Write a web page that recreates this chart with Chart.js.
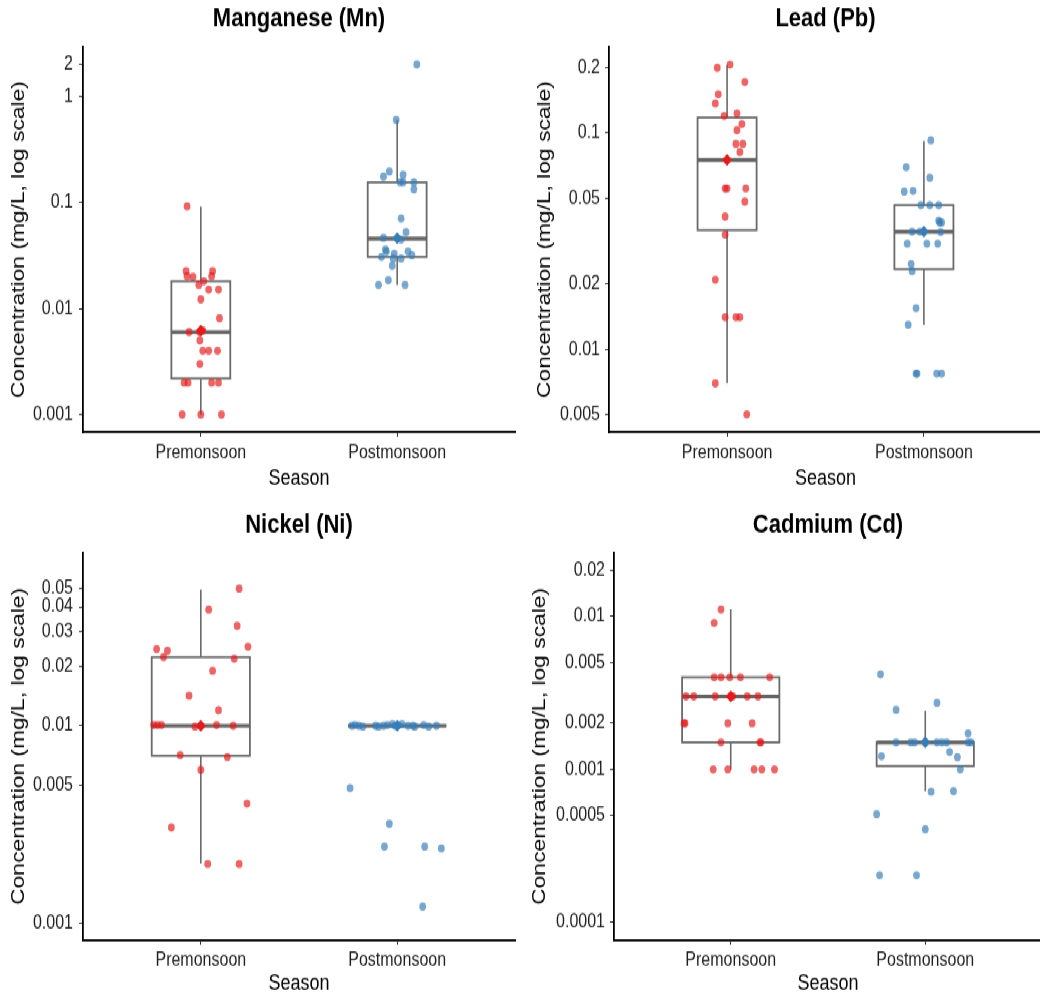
<!DOCTYPE html>
<html>
<head>
<meta charset="utf-8">
<script src="https://cdn.jsdelivr.net/npm/chart.js@4.4.1/dist/chart.umd.min.js"></script>
<style>
  html, body { margin: 0; padding: 0; background: #fff; }
  #frame { position: relative; width: 1040px; height: 997px; overflow: hidden; }
  #page { position: absolute; left: 0; top: 0; width: 1047px; height: 831px;
          transform: scaleY(1.19976); transform-origin: 0 0; }
  #page canvas { position: absolute; }
</style>
</head>
<body>
<div id="frame">
<div id="page">
  <canvas id="mn" width="520" height="415" style="left:0;top:0"></canvas>
  <canvas id="pb" width="527" height="415" style="left:520px;top:0"></canvas>
  <canvas id="ni" width="520" height="416" style="left:0;top:415px"></canvas>
  <canvas id="cd" width="527" height="416" style="left:520px;top:415px"></canvas>
</div>
</div>
<script>
const seasons = ["Premonsoon", "Postmonsoon"];

// Manganese (Mn)
const mnPre = [0.092, 0.0225, 0.0202, 0.0199, 0.0225, 0.0202, 0.0181, 0.0167, 0.0151, 0.0151, 0.0122, 0.0081, 0.006, 0.006, 0.0062, 0.005, 0.004, 0.004, 0.004, 0.003, 0.002, 0.002, 0.002, 0.002, 0.001, 0.001, 0.001];
const mnPreJitter = [-0.07, -0.075, -0.07, -0.04, 0.06, 0.055, 0.015, -0.01, 0.04, 0.09, 0, 0.095, -0.06, -0.005, 0.01, -0.005, 0.01, 0.04, 0.085, -0.005, -0.085, -0.065, 0.055, 0.09, -0.095, 0, 0.105];
const mnPost = [2.0, 0.60, 0.196, 0.175, 0.182, 0.155, 0.155, 0.155, 0.133, 0.0706, 0.0525, 0.0464, 0.0448, 0.036, 0.0345, 0.033, 0.0345, 0.0318, 0.0307, 0.0296, 0.0296, 0.0253, 0.0185, 0.0167, 0.0167];
const mnPostJitter = [0.1, -0.005, -0.04, -0.07, 0.03, 0.015, 0.03, 0.085, 0.085, 0.02, 0.045, -0.07, 0.02, -0.06, -0.055, -0.015, 0.055, 0.075, -0.08, -0.02, 0.02, -0.025, -0.045, -0.095, 0.04];
const mnBoxPre = [0.001, 0.00219, 0.006, 0.0181, 0.091];   // lo, q1, median, q3, hi
const mnBoxPost = [0.0167, 0.0307, 0.0457, 0.155, 0.60];
const mnMeans = [0.0062, 0.046];
const mnTicks = [0.001, 0.01, 0.1, 1, 2];
const mnRange = [0.000684, 2.92];

// Lead (Pb)
const pbPre = [0.200, 0.207, 0.172, 0.151, 0.137, 0.120, 0.123, 0.110, 0.103, 0.089, 0.089, 0.0817, 0.0554, 0.0554, 0.0554, 0.0482, 0.0411, 0.0339, 0.021, 0.0141, 0.0141, 0.0141, 0.00697, 0.00501];
const pbPreJitter = [-0.05, 0.015, 0.09, -0.045, -0.06, -0.015, 0.05, 0.075, 0.05, 0.045, 0.08, 0.065, -0.01, 0, 0.095, 0.09, -0.01, -0.01, -0.06, -0.01, 0.045, 0.065, -0.06, 0.1];
const pbPost = [0.0925, 0.0695, 0.0621, 0.0536, 0.054, 0.0464, 0.0464, 0.0464, 0.0394, 0.0386, 0.0386, 0.035, 0.035, 0.0349, 0.0308, 0.0308, 0.0308, 0.0248, 0.023, 0.0155, 0.013, 0.00773, 0.00773, 0.00773, 0.00773];
const pbPostJitter = [0.035, -0.09, 0.03, -0.1, -0.055, -0.015, 0.03, 0.075, 0.075, 0.09, 0.08, -0.06, -0.02, 0.085, -0.085, 0.015, 0.07, -0.065, -0.06, -0.04, -0.08, -0.04, -0.035, 0.065, 0.09];
const pbBoxPre = [0.0070, 0.0356, 0.0749, 0.1177, 0.206];
const pbBoxPost = [0.013, 0.0235, 0.035, 0.0464, 0.0919];
const pbMeans = [0.075, 0.035];
const pbTicks = [0.005, 0.01, 0.02, 0.05, 0.1, 0.2];
const pbRange = [0.00415, 0.2495];

// Nickel (Ni)
const niPre = [0.0496, 0.0388, 0.0321, 0.0245, 0.024, 0.0252, 0.0223, 0.0219, 0.019, 0.0142, 0.012, 0.0101, 0.0101, 0.0101, 0.0099, 0.01, 0.0101, 0.01, 0.0071, 0.00694, 0.00598, 0.00403, 0.00305, 0.00199, 0.00199];
const niPreJitter = [0.195, 0.04, 0.185, -0.225, -0.17, 0.24, -0.19, 0.17, 0.06, -0.06, 0.09, -0.24, -0.22, -0.2, -0.03, 0, 0.08, 0.165, -0.105, 0.135, 0, 0.235, -0.15, 0.035, 0.195];
const niPost = [0.0100, 0.0101, 0.0100, 0.0099, 0.0100, 0.0099, 0.0100, 0.0101, 0.0102, 0.0100, 0.0101, 0.0102, 0.0100, 0.0100, 0.0099, 0.0101, 0.0099, 0.0100, 0.00483, 0.00318, 0.00244, 0.00244, 0.00239, 0.00121];
const niPostJitter = [-0.23, -0.215, -0.195, -0.175, -0.11, -0.095, -0.07, -0.05, -0.025, -0.01, 0.005, 0.025, 0.055, 0.08, 0.09, 0.135, 0.16, 0.2, -0.24, -0.04, -0.065, 0.14, 0.225, 0.13];
const niBoxPre = [0.002, 0.00705, 0.01, 0.0223, 0.049];
const niBoxPost = [0.01, 0.01, 0.01, 0.01, 0.01];
const niMeans = [0.01, 0.01];
const niTicks = [0.001, 0.005, 0.01, 0.02, 0.03, 0.04, 0.05];
const niRange = [0.00082, 0.0753];

// Cadmium (Cd)
const cdPre = [0.0111, 0.00906, 0.004, 0.004, 0.004, 0.004, 0.004, 0.003, 0.003, 0.003, 0.003, 0.003, 0.003, 0.003, 0.002, 0.002, 0.002, 0.002, 0.0015, 0.0015, 0.0015, 0.001, 0.001, 0.001, 0.001, 0.001];
const cdPreJitter = [-0.05, -0.085, -0.085, -0.05, -0.005, 0.05, 0.2, -0.23, -0.19, -0.08, 0, 0.01, 0.085, 0.14, -0.24, -0.235, -0.015, 0.11, -0.05, 0.15, 0.155, -0.09, -0.015, 0.12, 0.16, 0.225];
const cdPost = [0.00418, 0.00272, 0.00245, 0.00172, 0.0015, 0.0015, 0.0015, 0.0015, 0.0015, 0.0015, 0.0015, 0.0015, 0.0015, 0.00122, 0.0013, 0.0012, 0.001, 0.000714, 0.00072, 0.000509, 0.000406, 0.000203, 0.000203];
const cdPostJitter = [-0.23, 0.06, -0.15, 0.22, -0.15, -0.075, -0.055, 0, 0.06, 0.085, 0.11, 0.22, 0.235, -0.225, 0.125, 0.165, 0.18, 0.03, 0.145, -0.25, 0, -0.235, -0.045];
const cdBoxPre = [0.001, 0.0015, 0.003, 0.004, 0.0111];
const cdBoxPost = [0.00072, 0.00105, 0.0015, 0.0015, 0.00241];
const cdMeans = [0.003, 0.0015];
const cdTicks = [0.0001, 0.0005, 0.001, 0.002, 0.005, 0.01, 0.02];
const cdRange = [0.0000767, 0.026];

Chart.defaults.font.family = "'Liberation Sans', Arial, Helvetica, sans-serif";

const RED = "#E41A1C", BLUE = "#377EB8";
const RED_FILL = "rgba(228,26,28,0.68)", BLUE_FILL = "rgba(55,126,184,0.68)";

// box + whiskers, drawn under the points using the chart's own scales
const boxPlugin = {
    id: "boxPlot",
    beforeDatasetsDraw(chart, args, opts) {
        const { ctx, scales: { x, y } } = chart;
        ctx.save();
        opts.boxes.forEach((b, i) => {
            const cx = x.getPixelForValue(i + 1);
            const x0 = x.getPixelForValue(i + 1 - opts.halfWidth);
            const x1 = x.getPixelForValue(i + 1 + opts.halfWidth);
            const [lo, q1, med, q3, hi] = b.map(v => y.getPixelForValue(v));
            ctx.strokeStyle = "#6a6a6a";
            ctx.lineWidth = 1.6;
            ctx.beginPath();
            ctx.moveTo(cx, lo); ctx.lineTo(cx, q1);
            ctx.moveTo(cx, q3); ctx.lineTo(cx, hi);
            ctx.stroke();
            ctx.fillStyle = "#fff";
            ctx.fillRect(x0, q3, x1 - x0, q1 - q3);
            ctx.lineWidth = 1.8;
            ctx.strokeRect(x0, q3, x1 - x0, q1 - q3);
            ctx.strokeStyle = "#636363";
            ctx.lineWidth = 3.2;
            ctx.beginPath();
            ctx.moveTo(x0, med); ctx.lineTo(x1, med);
            ctx.stroke();
        });
        ctx.restore();
    }
};

function toPoints(cat, values, jitter) {
    return values.map((v, i) => ({ x: cat + jitter[i], y: v }));
}

const panels = [
    { id: "mn", title: "Manganese (Mn)", pre: mnPre, preJ: mnPreJitter, post: mnPost, postJ: mnPostJitter,
      boxes: [mnBoxPre, mnBoxPost], means: mnMeans, ticks: mnTicks, range: mnRange,
      half: 0.15, yWidth: 83, padRight: 0, titlePad: { top: 3, bottom: 9.8 }, xHeight: 54.9,
      xTickPad: 4, xTitlePad: 5, yTitlePad: 7, yTickPad: 6 },
    { id: "pb", title: "Lead (Pb)", pre: pbPre, preJ: pbPreJitter, post: pbPost, postJ: pbPostJitter,
      boxes: [pbBoxPre, pbBoxPost], means: pbMeans, ticks: pbTicks, range: pbRange,
      half: 0.15, yWidth: 89, padRight: 1, titlePad: { top: 3, bottom: 9.8 }, xHeight: 54.9,
      xTickPad: 4, xTitlePad: 5, yTitlePad: 13, yTickPad: 5 },
    { id: "ni", title: "Nickel (Ni)", pre: niPre, preJ: niPreJitter, post: niPost, postJ: niPostJitter,
      boxes: [niBoxPre, niBoxPost], means: niMeans, ticks: niTicks, range: niRange,
      half: 0.25, yWidth: 83, padRight: 5, titlePad: { top: 10, bottom: 9.5 }, xHeight: 47.5,
      xTickPad: 3, xTitlePad: 0, yTitlePad: 7, yTickPad: 6 },
    { id: "cd", title: "Cadmium (Cd)", pre: cdPre, preJ: cdPreJitter, post: cdPost, postJ: cdPostJitter,
      boxes: [cdBoxPre, cdBoxPost], means: cdMeans, ticks: cdTicks, range: cdRange,
      half: 0.25, yWidth: 94, padRight: 1, titlePad: { top: 10, bottom: 9.5 }, xHeight: 47.5,
      xTickPad: 3, xTitlePad: 0, yTitlePad: 8.5, yTickPad: 5 }
];

panels.forEach(p => {
    new Chart(document.getElementById(p.id), {
        type: "scatter",
        data: {
            datasets: [
                { data: toPoints(1, p.pre, p.preJ), backgroundColor: RED_FILL, borderWidth: 0, pointRadius: 3.4 },
                { data: toPoints(2, p.post, p.postJ), backgroundColor: BLUE_FILL, borderWidth: 0, pointRadius: 3.4 },
                { data: [{ x: 1, y: p.means[0] }], backgroundColor: RED, borderWidth: 0, pointStyle: "rectRot", pointRadius: 5 },
                { data: [{ x: 2, y: p.means[1] }], backgroundColor: BLUE, borderWidth: 0, pointStyle: "rectRot", pointRadius: 5 }
            ]
        },
        options: {
            responsive: false,
            animation: false,
            layout: { padding: { left: 0, right: p.padRight, top: 0, bottom: 0 } },
            plugins: {
                legend: { display: false },
                tooltip: { enabled: false },
                title: {
                    display: true, text: p.title, fullSize: false, color: "#000",
                    font: { size: 22, weight: "bold" }, padding: p.titlePad
                },
                boxPlot: { boxes: p.boxes, halfWidth: p.half }
            },
            scales: {
                x: {
                    type: "linear", min: 0.4, max: 2.6,
                    afterBuildTicks: s => { s.ticks = [{ value: 1 }, { value: 2 }]; },
                    afterFit: s => { s.height = p.xHeight; },
                    ticks: { callback: v => seasons[v - 1], color: "#1e1e1e", font: { size: 16 },
                             padding: p.xTickPad, maxRotation: 0, autoSkip: false },
                    grid: { drawOnChartArea: false, tickLength: 4, color: "#333" },
                    border: { color: "#000", width: 1.8 },
                    title: { display: true, text: "Season", color: "#000", font: { size: 18 },
                             padding: { top: 0, bottom: p.xTitlePad } }
                },
                y: {
                    type: "logarithmic", min: p.range[0], max: p.range[1],
                    afterBuildTicks: s => { s.ticks = p.ticks.map(v => ({ value: v })); },
                    afterFit: s => { s.width = p.yWidth; },
                    ticks: { callback: v => String(v), color: "#1e1e1e", font: { size: 16 }, padding: p.yTickPad },
                    grid: { drawOnChartArea: false, tickLength: 4, color: "#333" },
                    border: { color: "#000", width: 1.8 },
                    title: { display: true, text: "Concentration (mg/L, log scale)", color: "#000",
                             font: { size: 19 }, padding: { top: p.yTitlePad, bottom: 0 } }
                }
            }
        },
        plugins: [boxPlugin]
    });
});
</script>
</body>
</html>
